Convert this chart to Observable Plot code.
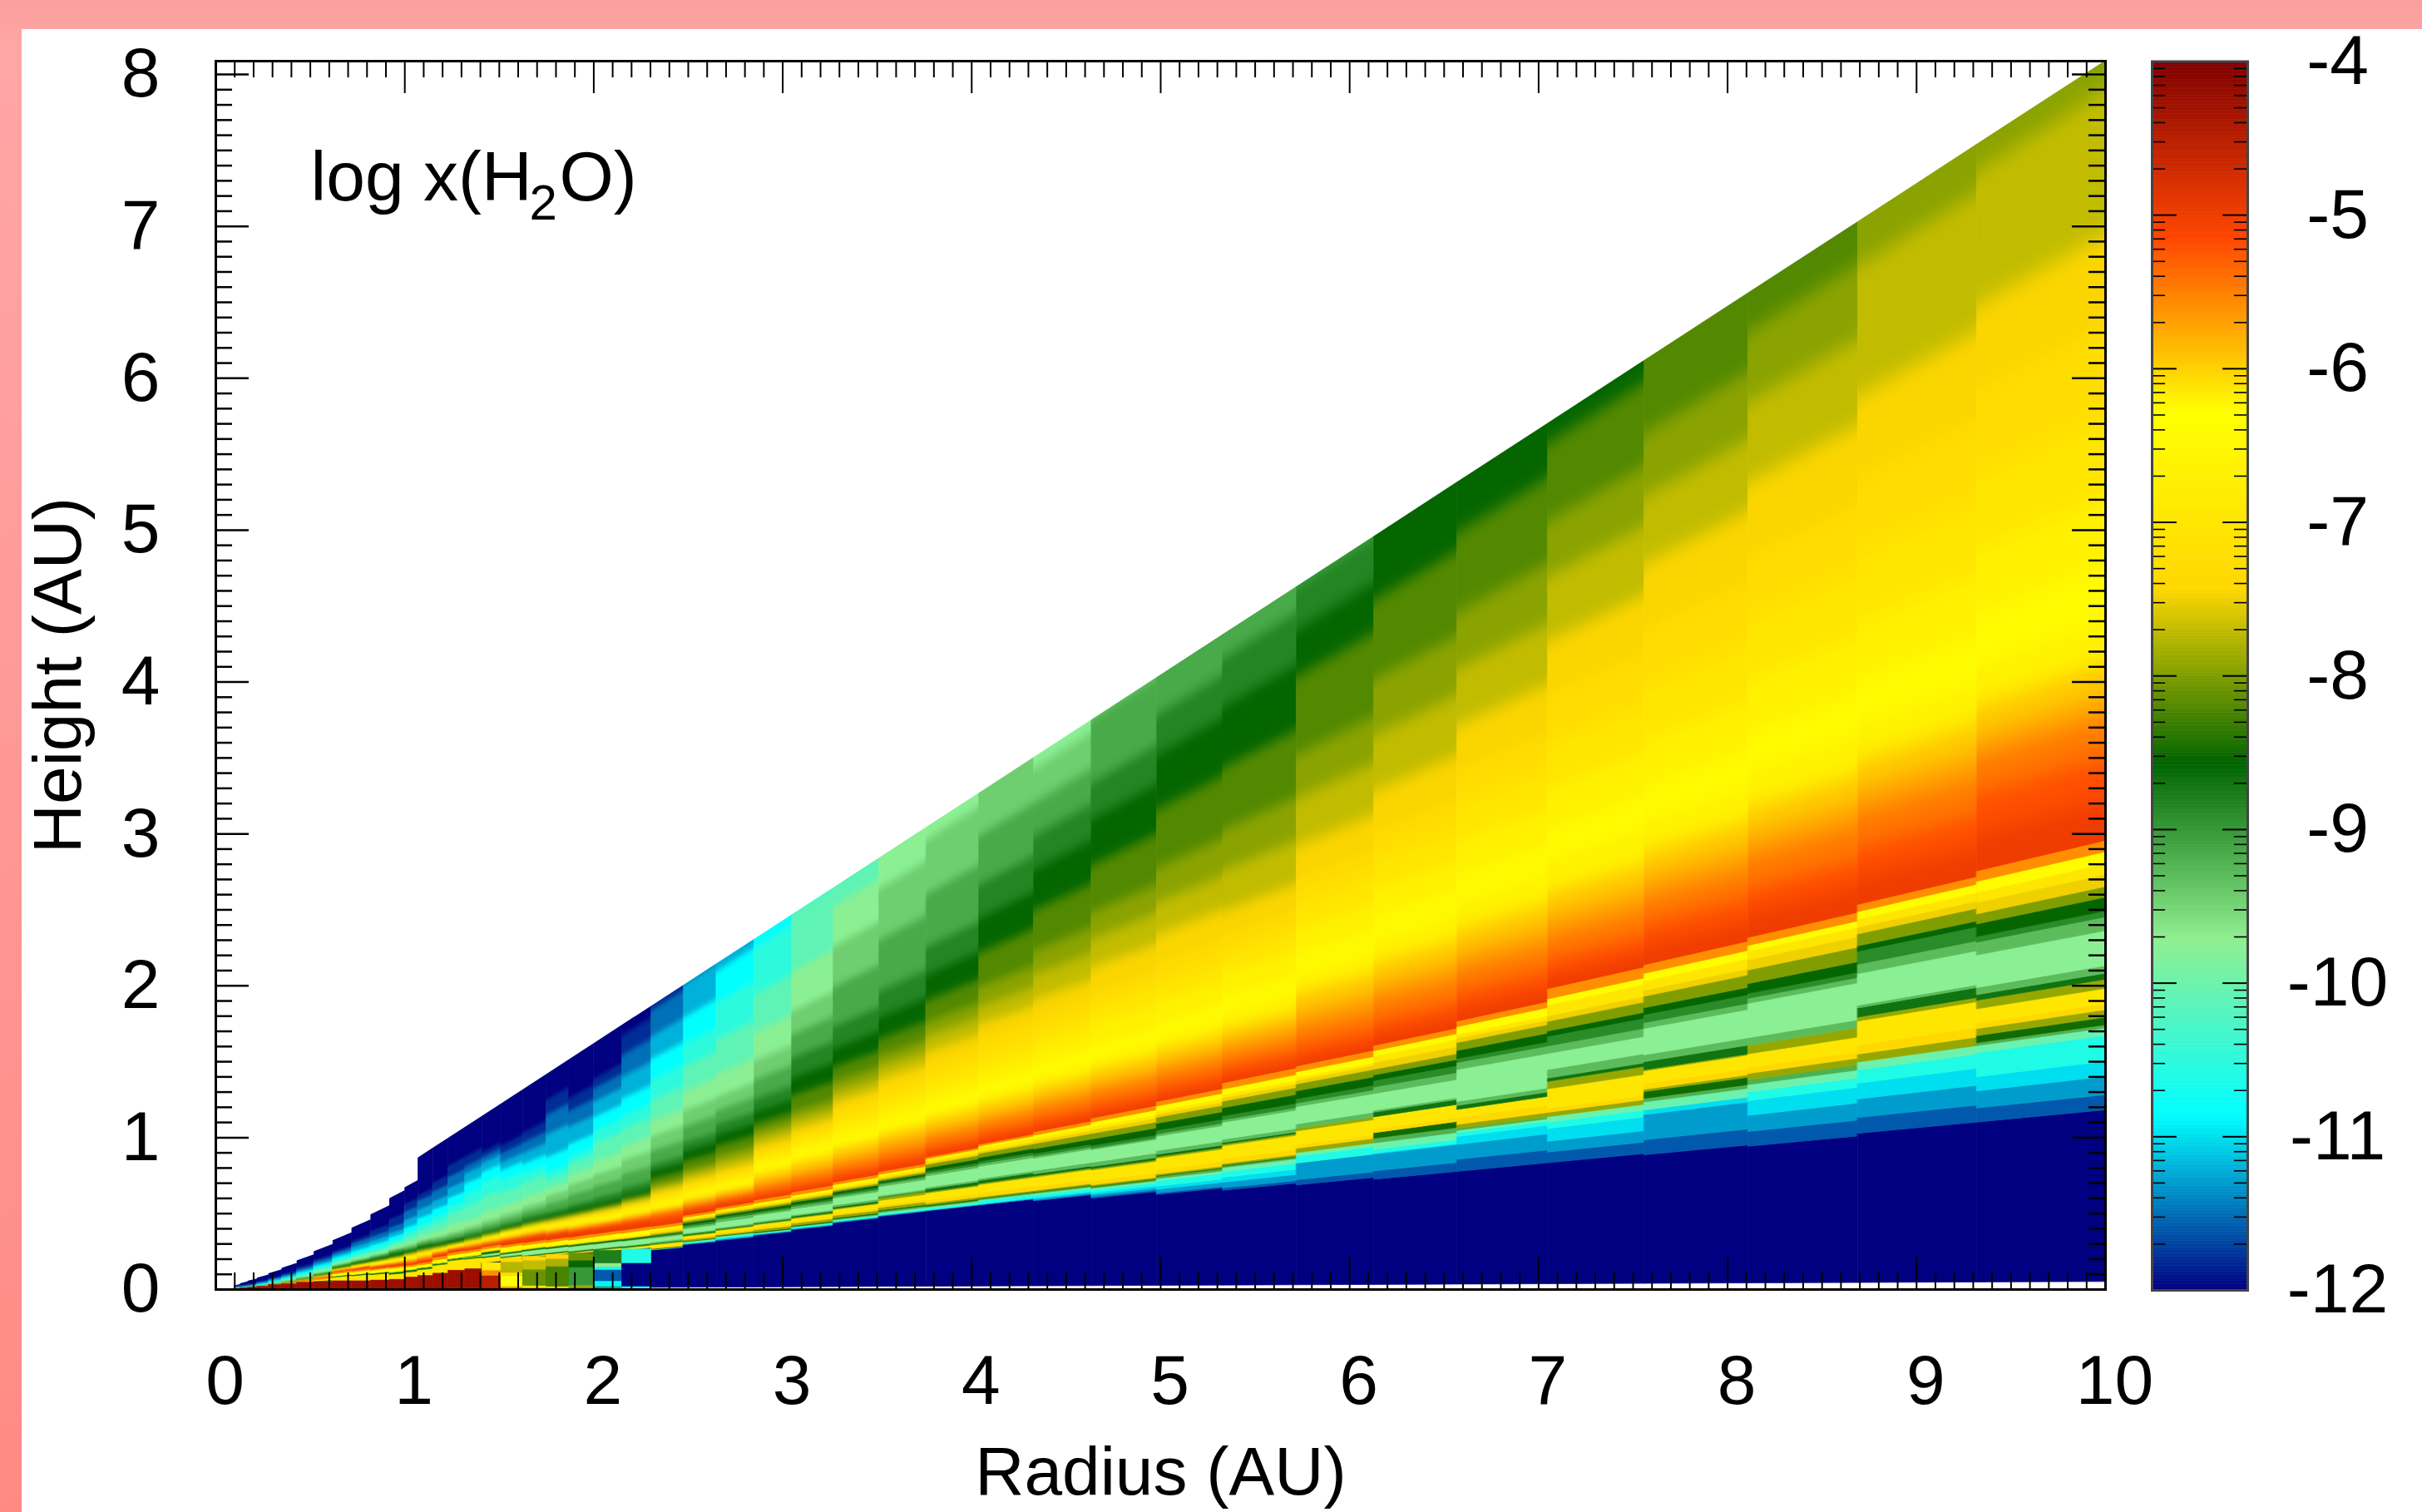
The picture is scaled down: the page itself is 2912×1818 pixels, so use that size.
<!DOCTYPE html>
<html><head><meta charset="utf-8">
<script src="https://cdn.jsdelivr.net/npm/d3@7"></script>
<script src="https://cdn.jsdelivr.net/npm/@observablehq/plot@0.6"></script>
<style>
html,body{margin:0;padding:0;width:2912px;height:1818px;overflow:hidden;background:linear-gradient(180deg,#f9a09c 0,#ffa6a6 3%,#ff8a84 100%);}
#panel{position:absolute;left:26px;top:35px;right:0;bottom:0;background:#fff;}
#main,#bar{position:absolute;left:0;top:0;}
svg{background:transparent!important;}
</style></head><body>
<div id="panel"></div><div id="main"></div><div id="bar"></div>
<script>
// radial column edges (AU)
const radiusEdges=[.10,.13,.17,.22,.28,.35,.43,.52,.62,.72,.82,.92,1.00,1.07,1.15,1.23,1.32,1.41,1.51,1.625,1.75,1.87,2.00,2.15,2.305,2.476,2.65,2.85,3.05,3.27,3.51,3.76,4.04,4.33,4.635,4.98,5.33,5.72,6.13,6.57,7.05,7.56,8.11,8.69,9.32,10];
// upper limit of the wedge per column, z/r x 1000
const wedgeTop=[250,300,320,340,370,400,440,480,520,560,600,650,670,809,809,809,809,809,809,809,809,809,809,809,809,809,809,809,809,809,809,809,809,809,809,809,809,809,809,809,809,809,809,809,809];
// log x(H2O) of each band, from midplane upward
const bandValues=[-12,-11.6,-11.3,-11,-10.6,-10,-9.2,-8.5,-7.9,-7.4,-7,-7.9,-8.7,-9.3,-9.75,-9.3,-8.9,-8.55,-8,-7.5,-7,-6.4,-5.6,-5,-5.2,-5.45,-5.7,-5.95,-6.2,-6.4,-6.7,-7,-7.25,-7.45,-7.7,-7.95,-8.2,-8.55,-8.85,-9.15,-9.45,-9.75,-10.1,-10.5,-10.85,-11.2,-11.5,-11.8,-12];
const surfaceBand=23; // first band of the smooth surface layer
// top of each band per column, z/r x 1000
const bandTops=[
[5,5,5,5,5,5,5,5,5,5,35,36,37,37,37,38,38,38,39,39,39,45,50,60,61,61,62,62,63,63,64,64,65,65,66,66,67,70,73,75,80,90,100,115,130,150,175,200],
[5,5,5,5,5,5,5,5,5,5,40,41,42,42,42,43,43,43,44,44,44,50,55,60,61,61,62,62,63,63,64,64,65,65,66,66,67,70,73,75,80,90,100,115,130,150,165,180],
[5,5,5,5,5,5,5,5,5,5,45,46,48,48,48,49,49,49,50,50,50,55,60,65,66,66,67,67,68,69,70,71,72,73,74,75,76,80,84,86,90,100,105,120,135,150,170,180],
[5,5,5,5,5,5,5,5,5,5,50,52,54,55,55,56,56,57,57,58,58,60,65,70,71,72,73,74,75,76,78,79,80,81,82,83,84,87,92,97,100,110,120,140,160,180,205,220],
[5,5,5,5,5,5,5,5,5,5,55,57,60,61,61,62,62,63,63,64,65,70,77,85,86,87,88,89,90,92,94,96,98,99,100,102,104,108,112,120,125,140,150,170,190,215,235,250],
[5,5,5,5,5,5,5,5,5,5,70,72,75,76,76,77,77,78,78,79,80,90,97,105,107,109,111,113,115,118,120,122,124,125,126,127,128,132,138,142,145,165,180,195,215,240,260,280],
[5,5,5,5,5,5,5,5,5,5,80,82,90,91,91,92,92,93,93,94,95,100,110,120,122,123,124,125,126,130,133,135,137,139,141,143,145,150,158,165,170,190,205,225,250,275,300,330],
[5,5,5,5,5,5,5,5,5,5,90,92,100,101,101,102,102,103,103,104,105,115,125,140,142,144,146,148,150,155,158,160,162,164,166,168,170,178,185,192,198,220,240,265,290,315,345,370],
[5,5,5,5,5,5,5,5,5,5,125,127,135,136,136,137,137,138,138,139,140,160,170,190,192,193,194,195,196,200,205,208,210,212,214,216,218,226,238,245,252,270,288,305,330,355,380,400],
[5,5,5,5,5,5,5,5,5,5,120,122,130,131,131,132,132,133,133,134,135,155,165,185,188,190,192,196,200,205,210,213,215,218,220,222,224,235,245,252,262,280,300,315,345,380,415,440],
[5,5,5,5,5,5,5,5,5,5,115,117,125,126,126,127,127,128,128,129,130,150,157,175,178,181,185,190,200,203,207,210,212,215,219,222,227,238,250,260,268,282,300,325,352,385,420,465],
[5,5,5,5,5,5,5,5,5,5,105,107,118,119,119,120,120,121,121,122,123,148,155,172,176,180,185,192,200,203,207,210,212,216,221,225,232,245,262,272,281,297,320,340,370,400,440,500],
[5,5,5,5,5,5,5,5,5,5,110,112,122,123,123,124,124,125,125,126,127,145,152,165,172,178,186,195,205,208,212,215,218,223,228,232,240,250,258,270,285,305,340,370,404,455,510,560],
[5,5,5,5,5,5,5,5,5,5,118,120,128,129,129,130,130,131,131,132,133,148,156,172,180,187,193,205,212,214,218,221,224,228,233,238,247,259,270,283,295,321,360,392,436,488,543,578],
[5,5,5,5,5,5,5,5,5,5,135,137,143,144,145,145,146,146,147,147,148,165,178,192,200,205,210,215,220,222,224,226,228,232,235,238,246,255,265,280,295,325,370,410,456,503,560,610],
[5,5,5,5,5,5,5,5,5,5,150,152,158,159,159,160,160,161,162,163,164,180,190,206,209,212,216,220,225,228,230,232,234,236,238,240,248,258,265,282,299,344,400,440,488,540,600,660],
[5,5,5,5,5,5,5,5,5,5,148,150,155,156,158,159,160,161,162,163,165,180,188,205,208,212,216,220,225,228,232,236,238,241,243,245,250,258,270,287,304,342,410,470,527,577,612,660],
[123,123,123,123,123,123,123,123,123,123,145,147,151,153,160,162,164,170,172,175,178,185,193,207,210,213,218,224,230,233,238,242,244,247,249,251,256,262,275,294,314,358,430,497,547,588,615,640],
[125,125,125,125,125,125,125,125,125,125,135,137,140,142,150,152,153,156,158,160,162,180,187,208,212,215,220,225,235,238,243,247,249,252,254,256,262,270,280,301,322,362,420,473,518,553,591,626],
[127,127,127,127,127,127,127,127,127,127,130,132,135,137,152,154,155,158,160,162,164,177,185,208,212,216,220,226,240,242,244,246,250,254,258,261,265,275,290,311,332,372,430,467,507,551,594,634],
[126,126,126,126,126,126,126,126,126,126,130,132,135,137,150,152,153,156,158,160,162,175,182,205,208,212,216,222,228,233,237,243,248,253,257,261,265,275,290,319,350,377,410,439,497,582,655,712],
[123,123,123,123,123,123,123,123,123,123,127,129,132,134,148,150,151,154,156,158,160,172,180,200,205,208,214,220,226,232,237,243,248,253,257,261,266,278,295,331,367,401,440,467,511,572,627,672],
[121,121,121,121,121,121,121,121,121,121,126,128,131,133,147,149,150,153,155,157,159,172,179,198,204,209,214,218,223,230,236,243,248,253,258,263,267,279,300,338,376,421,480,520,566,617,660,692],
[119,119,119,119,119,119,119,119,119,119,125,127,130,132,146,148,149,152,154,156,158,171,178,196,206,212,216,220,225,232,240,248,253,259,266,271,275,288,310,352,395,438,490,530,584,650,716,776],
[111,112,112,112,113,113,114,115,116,118,126,128,130,134,145,148,150,152,156,160,165,171,177,192,205,216,219,223,229,238,250,259,266,276,286,297,316,336,355,395,436,481,540,598,658,722,795],
[118,119,120,121,123,125,126,127,131,135,140,142,145,148,160,165,170,175,180,183,186,190,194,208,214,221,228,235,243,250,260,269,277,288,303,315,340,366,390,432,475,525,590,650,722,810],
[120,122,123,125,128,130,131,132,135,140,145,147,149,152,166,173,178,182,186,189,192,196,200,212,218,226,232,240,246,254,265,274,282,295,313,331,356,383,410,444,478,535,620,712,790,880],
[124,125,126,127,128,129,130,132,137,141,148,150,152,155,170,174,178,183,187,190,193,198,204,212,222,235,245,262,270,283,295,305,315,330,348,364,383,409,440,484,528,592,680,787,860],
[128,129,130,131,133,134,135,137,142,146,152,154,157,160,173,178,182,187,191,194,197,202,208,215,225,240,252,270,283,295,310,322,331,346,364,382,418,457,500,550,600,685,810,930],
[133,134,135,136,137,139,141,143,148,152,160,162,165,169,183,187,191,195,198,201,204,210,214,222,233,248,262,280,290,305,322,340,358,376,396,417,447,485,530,609,690,770,870],
[136,137,138,138,140,143,146,148,153,157,166,171,172,175,192,196,199,202,205,208,211,215,219,228,240,255,272,288,300,315,335,355,375,394,416,437,469,511,560,655,751,825,900],
[137,137,138,138,141,143,145,147,150,156,168,170,175,178,198,202,206,212,218,221,225,228,230,238,248,265,277,295,307,325,345,368,390,415,442,467,505,551,600,692,787,870],
[137,137,138,139,144,145,147,148,150,157,170,172,177,180,200,204,208,214,221,224,229,233,235,243,254,270,282,300,314,332,355,378,405,431,460,492,548,605,660,740,820],
[134,135,137,139,143,145,147,148,150,156,170,172,175,180,199,202,206,213,221,225,229,234,238,246,258,275,288,305,320,340,365,387,410,440,478,514,576,639,690,740,792,860],
[129,131,134,137,141,143,145,146,148,154,169,171,174,180,198,200,204,213,221,226,230,237,242,250,262,280,292,310,325,345,375,400,420,457,497,535,602,668,720,810,900],
[125,127,132,136,143,146,149,150,152,158,173,175,178,183,202,205,210,219,227,231,235,242,247,255,268,285,298,315,330,352,380,405,430,469,511,557,634,707,760,860],
[122,125,132,138,145,150,152,153,155,161,177,179,181,185,206,209,214,224,232,236,240,247,254,262,275,290,305,320,340,362,390,412,435,467,517,567,644,720,780,830],
[120,126,145,145,153,157,157,157,162,166,182,185,185,190,210,214,219,228,236,240,243,250,256,265,280,300,318,340,360,385,415,445,470,510,565,615,705,760,810],
[118,127,145,146,150,157,162,168,168,172,185,185,190,192,210,217,224,230,236,243,250,256,261,272,288,310,328,350,374,400,430,462,490,535,595,655,740,830],
[118,130,145,153,157,159,161,161,165,172,180,180,184,188,220,227,231,239,247,251,255,263,268,280,298,320,338,360,386,415,450,486,520,565,622,678,758,840],
[118,128,138,150,156,161,161,161,165,169,187,194,197,205,220,227,236,241,250,255,265,271,280,292,308,330,348,370,400,430,468,510,555,605,665,717,790,850],
[117,130,152,156,156,163,166,172,174,179,190,191,198,204,227,232,239,245,255,260,268,275,282,298,318,340,358,380,407,438,478,525,575,632,690,745,825],
[116,128,141,153,160,166,170,170,175,180,191,198,198,204,232,236,240,248,259,267,274,279,285,305,325,350,368,390,419,452,495,545,595,655,720,777,860],
[118,130,144,156,166,172,172,172,178,185,203,206,213,215,239,246,256,260,269,274,280,286,291,312,335,360,378,400,427,462,505,558,615,677,775,840],
[118,128,140,150,167,172,174,179,184,188,198,204,208,213,236,245,249,258,265,273,280,288,295,322,350,375,390,412,440,477,522,575,635,695,790,860]
];
// midplane cells (dense region under the surface, r < 2.3 AU)
const midR1=[.13,.17,.22,.28,.35,.43,.52,.62,.72,.82,.92,1.00,1.07,1.15,1.23,1.32,1.41,1.41,1.41,1.51,1.51,1.51,1.51,1.51,1.625,1.625,1.625,1.625,1.75,1.75,1.75,1.75,1.87,1.87,1.87,1.87,2.0,2.0,2.0,2.0,2.0,2.0,2.15,2.15,2.15];
const midR2=[.17,.22,.28,.35,.43,.52,.62,.72,.82,.92,1.00,1.07,1.15,1.23,1.32,1.41,1.51,1.51,1.51,1.625,1.625,1.625,1.625,1.625,1.75,1.75,1.75,1.75,1.87,1.87,1.87,1.87,2.0,2.0,2.0,2.0,2.15,2.15,2.15,2.15,2.15,2.15,2.305,2.305,2.305];
const midZ1=[.002,.002,.002,.002,.002,.002,.003,.003,.004,.004,.005,.005,.005,.005,.006,.006,.006,.09,.125,.007,.018,.09,.11,.18,.008,.025,.13,.19,.008,.02,.15,.2,.009,.028,.146,.19,.01,.018,.055,.128,.146,.173,.011,.02,.173];
const midZ2=[.01,.015,.02,.03,.035,.045,.05,.055,.055,.06,.065,.08,.09,.105,.125,.135,.09,.125,.175,.018,.09,.11,.18,.2,.025,.13,.19,.215,.02,.15,.2,.228,.028,.146,.19,.237,.018,.055,.128,.146,.173,.255,.02,.173,.265];
const midV=[-4.6,-4.4,-4.3,-4.25,-4.25,-4.25,-4.25,-4.25,-4.25,-4.25,-4.25,-4.3,-4.25,-4.25,-4.25,-4.25,-4.5,-5.6,-6.9,-5.7,-6.3,-7.2,-7.75,-7.4,-7,-8.1,-7.7,-7.4,-7.2,-8.25,-7.8,-7.4,-7.9,-9,-8.6,-8.1,-9,-10.9,-11.6,-10.8,-9.7,-8.8,-10.8,-12,-10.6];
// colour ramp
const rampStops=[-12,-10.857,-9.714,-8.571,-7.429,-6.286,-5.143,-4];
const rampColors=["#000080","#00ffff","#90ee90","#006400","#ffd700","#ffff00","#ff4500","#800000"];
// axis ticks and labels
const xMajor=[0,1,2,3,4,5,6,7,8,9,10];
const yMajor=[0,1,2,3,4,5,6,7,8];
const barLabels=[-4,-5,-6,-7,-8,-9,-10,-11,-12];
const barMinorMantissa=[2,3,4,5,6,7,8,9];

const xMinor=d3.range(0,100).map(i=>i/10).filter(v=>!xMajor.includes(v));
const yMinor=d3.range(0,80).map(i=>i/10).filter(v=>!yMajor.includes(v));
const yMax=8.088;
const colCount=radiusEdges.length-1;
function seg(list,id,c,q0,q1,v){
  const r0=radiusEdges[c],r1=radiusEdges[c+1];
  list.push({id,x:r0,y1:q0/1000*r0,y2:q1/1000*r0,v},{id,x:r1,y1:q0/1000*r1,y2:q1/1000*r1,v});
}
// lower, sharply stepped bands
const lower=[];
for(let c=0;c<colCount;c++){
  let prev=5;
  bandValues.slice(0,surfaceBand).forEach((v,k)=>{
    const t=Math.min(wedgeTop[c],bandTops[c][k]);
    if(t<=prev)return;
    seg(lower,c+"-"+k,c,prev,t,v);prev=t;
  });
}
// surface bands: one layer per column, softened vertically at render time
const surfaceCols=d3.range(colCount).map(c=>{
  const list=[];let prev=Math.max(5,bandTops[c][surfaceBand-1]-40);
  for(let k=surfaceBand;k<bandValues.length;k++){
    const t=bandTops[c][k]??1400;
    if(t<=prev)continue;
    seg(list,c+"-"+k,c,prev,t,bandValues[k]);prev=t;
    if(t>=1400)break;
  }
  return list;
});
// white above the wedge: one continuous shape, so that no seam shows between columns
const sky=[{x:0,y1:0,y2:yMax}];
wedgeTop.forEach((q,c)=>{
  const r0=radiusEdges[c],r1=radiusEdges[c+1];
  sky.push({x:r0,y1:q/1000*r0,y2:yMax},{x:r1,y1:q/1000*r1,y2:yMax});
});
const mid=midV.map((v,i)=>({x1:midR1[i],x2:midR2[i],y1:midZ1[i],y2:midZ2[i],v}));
const colorOpt={type:"linear",domain:rampStops,range:rampColors,interpolate:"rgb",clamp:true};
const font="Liberation Sans, Arial, sans-serif";

const main=Plot.plot({
  width:2912,height:1818,marginLeft:259,marginRight:381,marginTop:73,marginBottom:268,
  style:{fontFamily:font,background:"transparent",color:"black"},
  x:{domain:[0,10]},y:{domain:[0,yMax]},color:colorOpt,
  marks:[
    ...surfaceCols.map(list=>Plot.area(list,{x1:"x",y1:"y1",y2:"y2",z:"id",fill:"v",stroke:"v",strokeWidth:0.7,clip:"frame"})),
    Plot.area(sky,{x1:"x",y1:"y1",y2:"y2",fill:"white"}),
    Plot.area(lower,{x1:"x",y1:"y1",y2:"y2",z:"id",fill:"v",stroke:"v",strokeWidth:0.7}),
    Plot.rect(mid,{x1:"x1",x2:"x2",y1:"y1",y2:"y2",fill:"v",stroke:"v",strokeWidth:0.5}),
    Plot.ruleX(xMajor,{y1:0,y2:0.2136,stroke:"black",strokeWidth:2}),
    Plot.ruleX(xMajor,{y1:yMax-0.2136,y2:yMax,stroke:"black",strokeWidth:2}),
    Plot.ruleX(xMinor,{y1:0,y2:0.11,stroke:"black",strokeWidth:2}),
    Plot.ruleX(xMinor,{y1:yMax-0.11,y2:yMax,stroke:"black",strokeWidth:2}),
    Plot.ruleY(yMajor,{x1:0,x2:0.176,stroke:"black",strokeWidth:2.5}),
    Plot.ruleY(yMajor,{x1:10-0.176,x2:10,stroke:"black",strokeWidth:2.5}),
    Plot.ruleY(yMinor,{x1:0,x2:0.088,stroke:"black",strokeWidth:2.5}),
    Plot.ruleY(yMinor,{x1:10-0.088,x2:10,stroke:"black",strokeWidth:2.5}),
    Plot.frame({stroke:"black",strokeWidth:3}),
    Plot.axisX({anchor:"bottom",ticks:xMajor,tickSize:0,tickPadding:78,fontSize:84,dx:11,tickFormat:d=>String(d),label:null}),
    Plot.axisY({anchor:"left",ticks:yMajor,tickSize:0,tickPadding:67,fontSize:84,tickFormat:d=>String(d),label:null}),
    Plot.text(["Radius (AU)"],{frameAnchor:"bottom",dy:220,fontSize:82,lineAnchor:"middle",fill:"black"}),
    Plot.text(["Height (AU)"],{frameAnchor:"left",dx:-189,rotate:-90,fontSize:82,textAnchor:"middle",lineAnchor:"middle",fill:"black"}),
    Plot.text(["log x(H"],{frameAnchor:"top-left",dx:114,dy:141,fontSize:84,textAnchor:"start",lineAnchor:"middle",fill:"black"}),
    Plot.text(["2"],{frameAnchor:"top-left",dx:377,dy:171,fontSize:60,textAnchor:"start",lineAnchor:"middle",fill:"black"}),
    Plot.text(["O)"],{frameAnchor:"top-left",dx:413,dy:141,fontSize:84,textAnchor:"start",lineAnchor:"middle",fill:"black"})
  ]
});
document.getElementById("main").append(main);
// vertical softening of the surface layer, stronger where the bands are thicker
const NS="http://www.w3.org/2000/svg";
const defs=document.createElementNS(NS,"defs");main.prepend(defs);
const areaGroups=main.querySelectorAll('g[aria-label="area"]');
surfaceCols.forEach((_,c)=>{
  const f=document.createElementNS(NS,"filter");
  f.setAttribute("id","soft"+c);
  f.setAttribute("filterUnits","userSpaceOnUse");
  f.setAttribute("x",0);f.setAttribute("y",0);f.setAttribute("width",2912);f.setAttribute("height",1818);
  f.setAttribute("color-interpolation-filters","sRGB");
  const b=document.createElementNS(NS,"feGaussianBlur");
  const rc=(radiusEdges[c]+radiusEdges[c+1])/2;
  b.setAttribute("stdDeviation","0 "+Math.max(0.8,1.4*rc).toFixed(1));
  f.append(b);defs.append(f);
  areaGroups[c].setAttribute("filter","url(#soft"+c+")");
});

const ramp=d3.range(0,400).map(i=>({y1:-12+i*0.02,y2:-12+(i+1)*0.02,v:-12+(i+0.5)*0.02}));
const barMinor=barLabels.slice(1).flatMap(d=>barMinorMantissa.map(m=>d+Math.log10(m)));
const bar=Plot.plot({
  width:2912,height:1818,marginLeft:2587,marginRight:210,marginTop:73.5,marginBottom:267,
  style:{fontFamily:font,background:"transparent",color:"black"},
  x:{domain:[0,1],axis:null},y:{domain:[-12,-4]},color:colorOpt,
  marks:[
    Plot.rect(ramp,{x1:0,x2:1,y1:"y1",y2:"y2",fill:"v",stroke:"v",strokeWidth:0.6}),
    Plot.ruleY(barLabels,{x1:0,x2:0.26,stroke:"black",strokeWidth:2}),
    Plot.ruleY(barLabels,{x1:0.74,x2:1,stroke:"black",strokeWidth:2}),
    Plot.ruleY(barMinor,{x1:0,x2:0.14,stroke:"black",strokeWidth:1.6}),
    Plot.ruleY(barMinor,{x1:0.86,x2:1,stroke:"black",strokeWidth:1.6}),
    Plot.frame({stroke:"#444",strokeWidth:3}),
    Plot.axisY({anchor:"right",ticks:barLabels,tickSize:0,tickPadding:108,fontSize:84,textAnchor:"middle",tickFormat:d=>String(d),label:null})
  ]
});
document.getElementById("bar").append(bar);
</script></body></html>
